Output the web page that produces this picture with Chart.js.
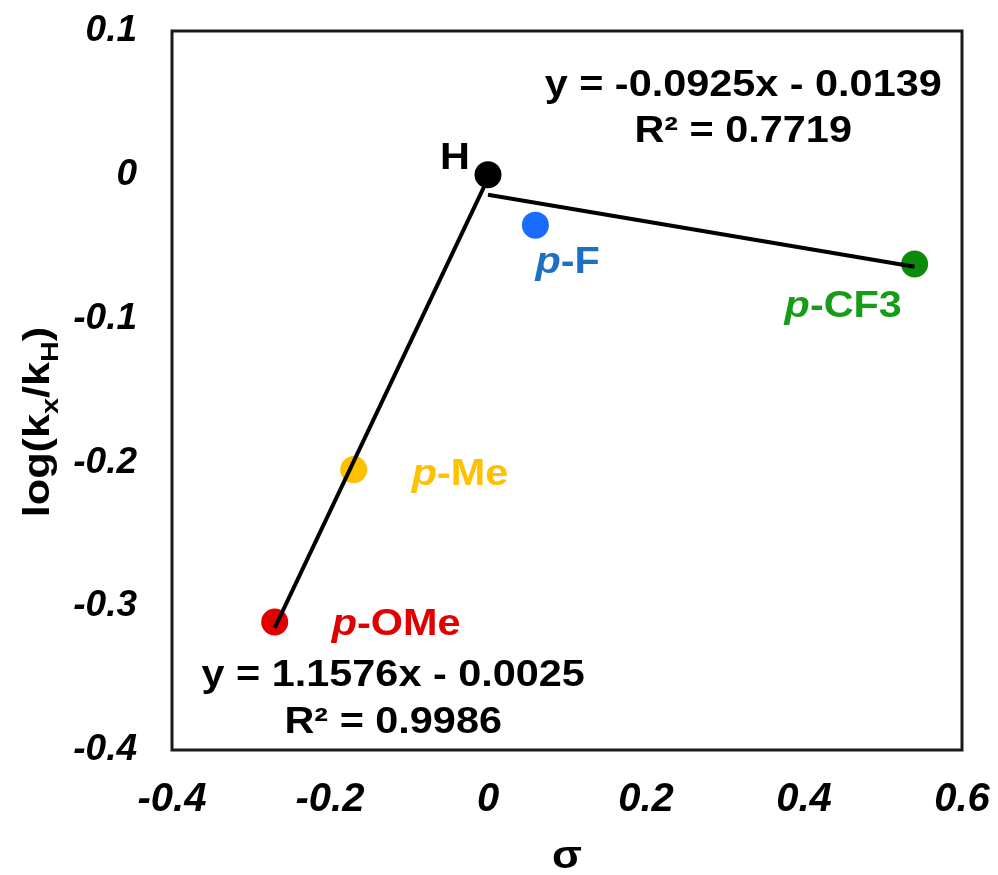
<!DOCTYPE html>
<html>
<head>
<meta charset="utf-8">
<script src="https://cdn.jsdelivr.net/npm/chart.js@4.4.1/dist/chart.umd.min.js"></script>
<style>
  html, body { margin: 0; padding: 0; background: #fff; }
  #wrap { width: 998px; height: 875px; }
</style>
</head>
<body>
<div id="wrap"><canvas id="chart-area" width="998" height="875"></canvas></div>
<script>
// substituents and their Hammett sigma values / measured log(kx/kH)
const names = ['p-OMe', 'p-Me', 'H', 'p-F', 'p-CF3'];
const sigma = [-0.27, -0.17, 0, 0.06, 0.54];
const logRel = [-0.311, -0.205, 0, -0.035, -0.062];
const pointColors = ['#e00000', '#ffc000', '#000000', '#1a6cff', '#0b8a0b'];
const labelColors = ['#e00000', '#ffc000', '#000000', '#1f6fc4', '#179c17'];

// the two linear fits (end points)
const fit1X = [-0.27, 0];
const fit1Y = [-0.315, -0.0025];
const fit2X = [0, 0.54];
const fit2Y = [-0.0139, -0.0639];
const fit1Text = ['y = 1.1576x - 0.0025', 'R\u00b2 = 0.9986'];
const fit2Text = ['y = -0.0925x - 0.0139', 'R\u00b2 = 0.7719'];

// axes
const xTicks = [-0.4, -0.2, 0, 0.2, 0.4, 0.6];
const yTicks = [0.1, 0, -0.1, -0.2, -0.3, -0.4];

const FONT = '"Liberation Sans", Arial, sans-serif';
const SX = 1.15; // text in the figure is a bit wide

function drawParts(ctx, parts, x, y, align, size, sx) {
    sx = sx || SX;
    let total = 0;
    parts.forEach(p => {
        ctx.font = (p.italic ? 'italic ' : '') + 'bold ' + Math.round(size * (p.sub ? 0.68 : 1)) + 'px ' + FONT;
        p.w = ctx.measureText(p.t).width;
        total += p.w;
    });
    let start = align === 'center' ? x - total * sx / 2 : x;
    ctx.save();
    ctx.translate(start, y);
    ctx.scale(sx, 1);
    ctx.textAlign = 'left';
    ctx.textBaseline = 'alphabetic';
    let cx = 0;
    parts.forEach(p => {
        ctx.font = (p.italic ? 'italic ' : '') + 'bold ' + Math.round(size * (p.sub ? 0.68 : 1)) + 'px ' + FONT;
        ctx.fillStyle = p.color || '#000';
        ctx.fillText(p.t, cx, p.sub ? size * 0.25 : 0);
        cx += p.w;
    });
    ctx.restore();
}

// where each point label goes, in pixels from its point
const labelOffsets = [[57, 13], [58, 15], [-48, -6], [0, 48], [-130, 53]];

const annotations = {
    id: 'annotations',
    afterDatasetsDraw(chart) {
        const ctx = chart.ctx;
        const xs = chart.scales.x, ys = chart.scales.y;
        const a = chart.chartArea;

        // frame
        ctx.save();
        ctx.strokeStyle = '#1a1a1a';
        ctx.lineWidth = 3;
        ctx.strokeRect(a.left, a.top, a.right - a.left, a.bottom - a.top);
        ctx.restore();

        // point labels
        names.forEach((n, i) => {
            const px = xs.getPixelForValue(sigma[i]) + labelOffsets[i][0];
            const py = ys.getPixelForValue(logRel[i]) + labelOffsets[i][1];
            let parts;
            if (n.startsWith('p-')) {
                parts = [{t: 'p', italic: true, color: labelColors[i]}, {t: n.slice(1), color: labelColors[i]}];
            } else {
                parts = [{t: n, color: labelColors[i]}];
            }
            drawParts(ctx, parts, px, py, 'left', 36);
        });

        // fit equations
        const e1x = xs.getPixelForValue(-0.12), e1y = ys.getPixelForValue(-0.3556);
        drawParts(ctx, [{t: fit1Text[0]}], e1x, e1y, 'center', 36);
        drawParts(ctx, [{t: fit1Text[1]}], e1x, e1y + 47, 'center', 36);
        const e2x = xs.getPixelForValue(0.323), e2y = ys.getPixelForValue(0.0548);
        drawParts(ctx, [{t: fit2Text[0]}], e2x, e2y, 'center', 36);
        drawParts(ctx, [{t: fit2Text[1]}], e2x, e2y + 46, 'center', 36);

        // axis titles
        ctx.save();
        ctx.translate(49, 422);
        ctx.rotate(-Math.PI / 2);
        drawParts(ctx, [{t: 'log(k'}, {t: 'x', sub: true}, {t: '/k'}, {t: 'H', sub: true}, {t: ')'}], 0, 0, 'center', 36, 1.2);
        ctx.restore();
        drawParts(ctx, [{t: '\u03c3'}], (a.left + a.right) / 2, 868, 'center', 38);
    }
};

const ctx2 = document.getElementById('chart-area').getContext('2d');
window.myChart = new Chart(ctx2, {
    type: 'scatter',
    data: {
        datasets: [
            {
                type: 'line',
                data: fit1X.map((x, i) => ({x: x, y: fit1Y[i]})),
                borderColor: '#000',
                borderWidth: 4,
                pointRadius: 0,
                fill: false
            },
            {
                type: 'line',
                data: fit2X.map((x, i) => ({x: x, y: fit2Y[i]})),
                borderColor: '#000',
                borderWidth: 4,
                pointRadius: 0,
                fill: false
            },
            {
                data: sigma.map((x, i) => ({x: x, y: logRel[i]})),
                backgroundColor: pointColors,
                borderColor: pointColors,
                borderWidth: 0,
                pointRadius: 13.5
            }
        ]
    },
    options: {
        responsive: false,
        animation: false,
        layout: {padding: {top: 31, right: 36, left: 0, bottom: 0}},
        plugins: {legend: {display: false}, tooltip: {enabled: false}},
        scales: {
            x: {
                type: 'linear',
                min: -0.4,
                max: 0.6,
                afterBuildTicks: s => { s.ticks = xTicks.map(v => ({value: v})); },
                afterFit: s => { s.height = 125; s.paddingLeft = 0; s.paddingRight = 0; },
                grid: {display: false, drawTicks: false},
                border: {display: false},
                ticks: {
                    padding: 26,
                    color: '#000',
                    font: {family: FONT, size: 40, weight: 'bold', style: 'italic'},
                    callback: v => v === 0 ? '0' : v.toFixed(1)
                }
            },
            y: {
                type: 'linear',
                min: -0.4,
                max: 0.1,
                afterBuildTicks: s => { s.ticks = yTicks.map(v => ({value: v})); },
                afterFit: s => { s.width = 172; s.paddingTop = 0; s.paddingBottom = 0; },
                grid: {display: false, drawTicks: false},
                border: {display: false},
                ticks: {
                    padding: 35,
                    color: '#000',
                    font: {family: FONT, size: 37, weight: 'bold', style: 'italic'},
                    callback: v => Math.abs(v) < 1e-9 ? '0' : v.toFixed(1)
                }
            }
        }
    },
    plugins: [annotations]
});
</script>
</body>
</html>
